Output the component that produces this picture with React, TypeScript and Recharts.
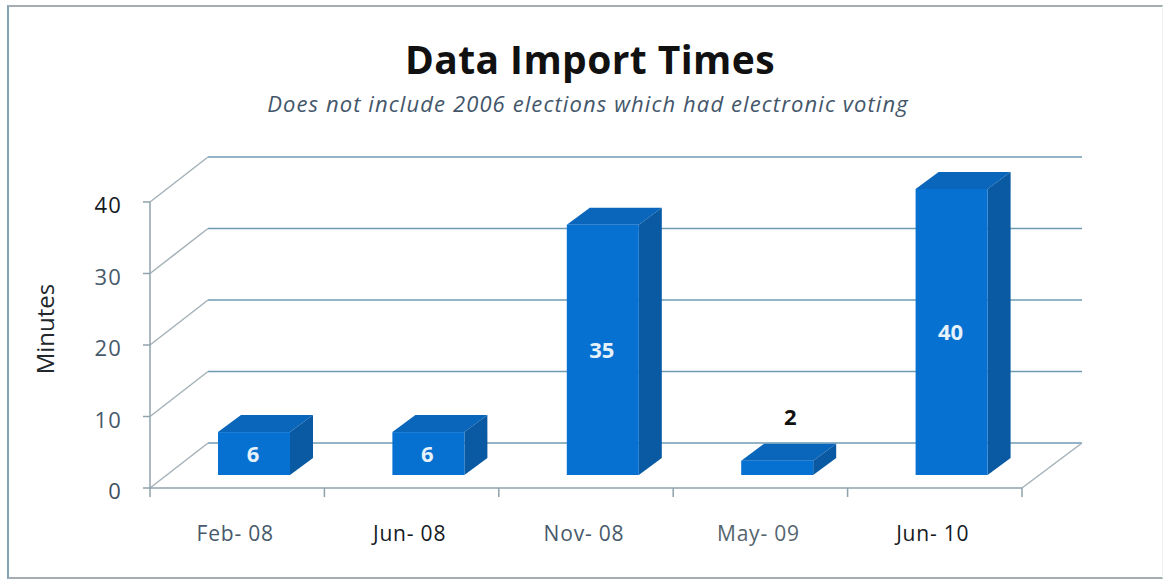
import { BarChart, Bar, XAxis, YAxis, CartesianGrid, LabelList } from 'recharts'

const MONTHS = ['Feb- 08', 'Jun- 08', 'Nov- 08', 'May- 09', 'Jun- 10']
const MINUTES = [6, 6, 35, 2, 40]
const MINUTE_TICKS = [0, 10, 20, 30, 40]
const MONTH_COLORS = ['#47596b', '#15191e', '#47596b', '#55656f', '#15191e']
const TICK_COLORS = ['#3f4f5e', '#47596b', '#47596b', '#47596b', '#15191e']

const rows = MONTHS.map((month, i) => ({ month, minutes: MINUTES[i] }))

const WIDTH = 1164
const HEIGHT = 579
const PLOT_LEFT = 150
const PLOT_WIDTH = 872
const BAND = PLOT_WIDTH / MONTHS.length

// depth of the chart floor, and of each box sitting on it
const WALL_DX = 58
const WALL_DY = -45
const BAR_SHIFT_X = 17
const BAR_SHIFT_Y = -13
const BOX_DX = 23
const BOX_DY = -17

const FONT = '"Open Sans", "Noto Sans", sans-serif'
const AXIS_COLOR = '#8fa3ad'

function WallLine({ x1, x2, y1, index }: any) {
  const backY = y1 + WALL_DY
  return (
    <g fill="none" key={index}>
      <line x1={x1} y1={y1} x2={x1 + WALL_DX} y2={backY} stroke="#a5b2b8" strokeWidth={1.5} />
      <line x1={x1 + WALL_DX} y1={backY} x2={x2 + 60} y2={backY} stroke="#6f9ab4" strokeWidth={1.5} />
      {y1 > 480 ? (
        <line x1={x2} y1={y1} x2={x2 + 60} y2={backY} stroke="#a5b2b8" strokeWidth={1.5} />
      ) : null}
    </g>
  )
}

function Box({ x, y, width, height }: any) {
  const l = x + BAR_SHIFT_X
  const r = l + width
  const t = y + BAR_SHIFT_Y
  const b = t + height
  return (
    <g>
      <path d={`M${l} ${t}L${l + BOX_DX} ${t + BOX_DY}H${r + BOX_DX}L${r} ${t}Z`} fill="#0a66bb" />
      <path d={`M${r} ${t}L${r + BOX_DX} ${t + BOX_DY}V${b + BOX_DY}L${r} ${b}Z`} fill="#0a5aa3" />
      <rect x={l} y={t} width={width} height={height} fill="#0671d1" />
    </g>
  )
}

function BoxLabel({ x, y, width, height, value }: any) {
  const cx = x + BAR_SHIFT_X + width / 2
  // the shortest box can't hold its number, so that one floats above
  const small = height < 20
  return (
    <text
      x={small ? cx + 13 : cx - 1}
      y={small ? y + BAR_SHIFT_Y - 45 : y + BAR_SHIFT_Y + height / 2 - 1}
      textAnchor="middle"
      dominantBaseline="central"
      fontFamily={FONT}
      fontWeight={700}
      fontSize={22}
      fill={small ? '#111' : '#e6f2fb'}
    >
      {value}
    </text>
  )
}

function MonthTick({ x, y, payload, index }: any) {
  const left = x - BAND / 2
  return (
    <g>
      <line x1={left} y1={y - 8} x2={left} y2={y + 1} stroke={AXIS_COLOR} strokeWidth={1.5} />
      {index === MONTHS.length - 1 ? (
        <line x1={left + BAND} y1={y - 8} x2={left + BAND} y2={y + 1} stroke={AXIS_COLOR} strokeWidth={1.5} />
      ) : null}
      <text
        x={x - 2}
        y={y + 37}
        textAnchor="middle"
        dominantBaseline="central"
        fontFamily={FONT}
        fontWeight={500}
        fontSize={21}
        letterSpacing={0.8}
        fill={MONTH_COLORS[index]}
      >
        {payload.value}
      </text>
    </g>
  )
}

function MinuteTick({ x, y, payload, index }: any) {
  return (
    <text
      x={x}
      y={y + 2}
      textAnchor="end"
      dominantBaseline="central"
      fontFamily={FONT}
      fontWeight={500}
      fontSize={22}
      letterSpacing={1.2}
      fill={TICK_COLORS[index]}
    >
      {payload.value}
    </text>
  )
}

export default function App() {
  return (
    <div style={{ position: 'absolute', left: 0, top: 0, width: WIDTH, height: HEIGHT, background: '#fff', overflow: 'hidden' }}>
      <div
        style={{
          position: 'absolute',
          left: 7,
          top: 5,
          width: 1153,
          height: 570,
          borderLeft: '2px solid #82a5b8',
          borderTop: '2px solid #a4aeb2',
          borderBottom: '2px solid #a4aeb2',
          borderRight: '1px solid #eef1f3',
        }}
      />
      <div style={{ position: 'absolute', left: 0, top: 0 }}>
        <BarChart
          width={WIDTH}
          height={HEIGHT}
          data={rows}
          barSize={72}
          margin={{ top: 202, right: WIDTH - PLOT_LEFT - PLOT_WIDTH, bottom: 51, left: PLOT_LEFT - 60 }}
        >
          <text x={590} y={58} textAnchor="middle" dominantBaseline="central" fontFamily={FONT} fontWeight={700} fontSize={39} letterSpacing={0.4} fill="#111">
            Data Import Times
          </text>
          <text x={588} y={103} textAnchor="middle" dominantBaseline="central" fontFamily={FONT} fontStyle="italic" fontSize={22} letterSpacing={1.1} fill="#43566a">
            Does not include 2006 elections which had electronic voting
          </text>
          <text
            x={44}
            y={329}
            transform="rotate(-90 44 329)"
            textAnchor="middle"
            dominantBaseline="central"
            fontFamily={FONT}
            fontSize={24}
            fill="#22272b"
          >
            Minutes
          </text>
          <CartesianGrid vertical={false} horizontal={(props: any) => <WallLine {...props} />} />
          <XAxis
            dataKey="month"
            height={40}
            tickLine={false}
            stroke={AXIS_COLOR}
            strokeWidth={1.5}
            tick={(props: any) => <MonthTick {...props} />}
            interval={0}
          />
          <YAxis
            width={60}
            domain={[0, 40]}
            ticks={MINUTE_TICKS}
            tickSize={7}
            tickMargin={21}
            stroke={AXIS_COLOR}
            strokeWidth={1.5}
            tick={(props: any) => <MinuteTick {...props} />}
          />
          <Bar dataKey="minutes" isAnimationActive={false} shape={(props: any) => <Box {...props} />}>
            <LabelList dataKey="minutes" content={(props: any) => <BoxLabel {...props} />} />
          </Bar>
        </BarChart>
      </div>
    </div>
  )
}
